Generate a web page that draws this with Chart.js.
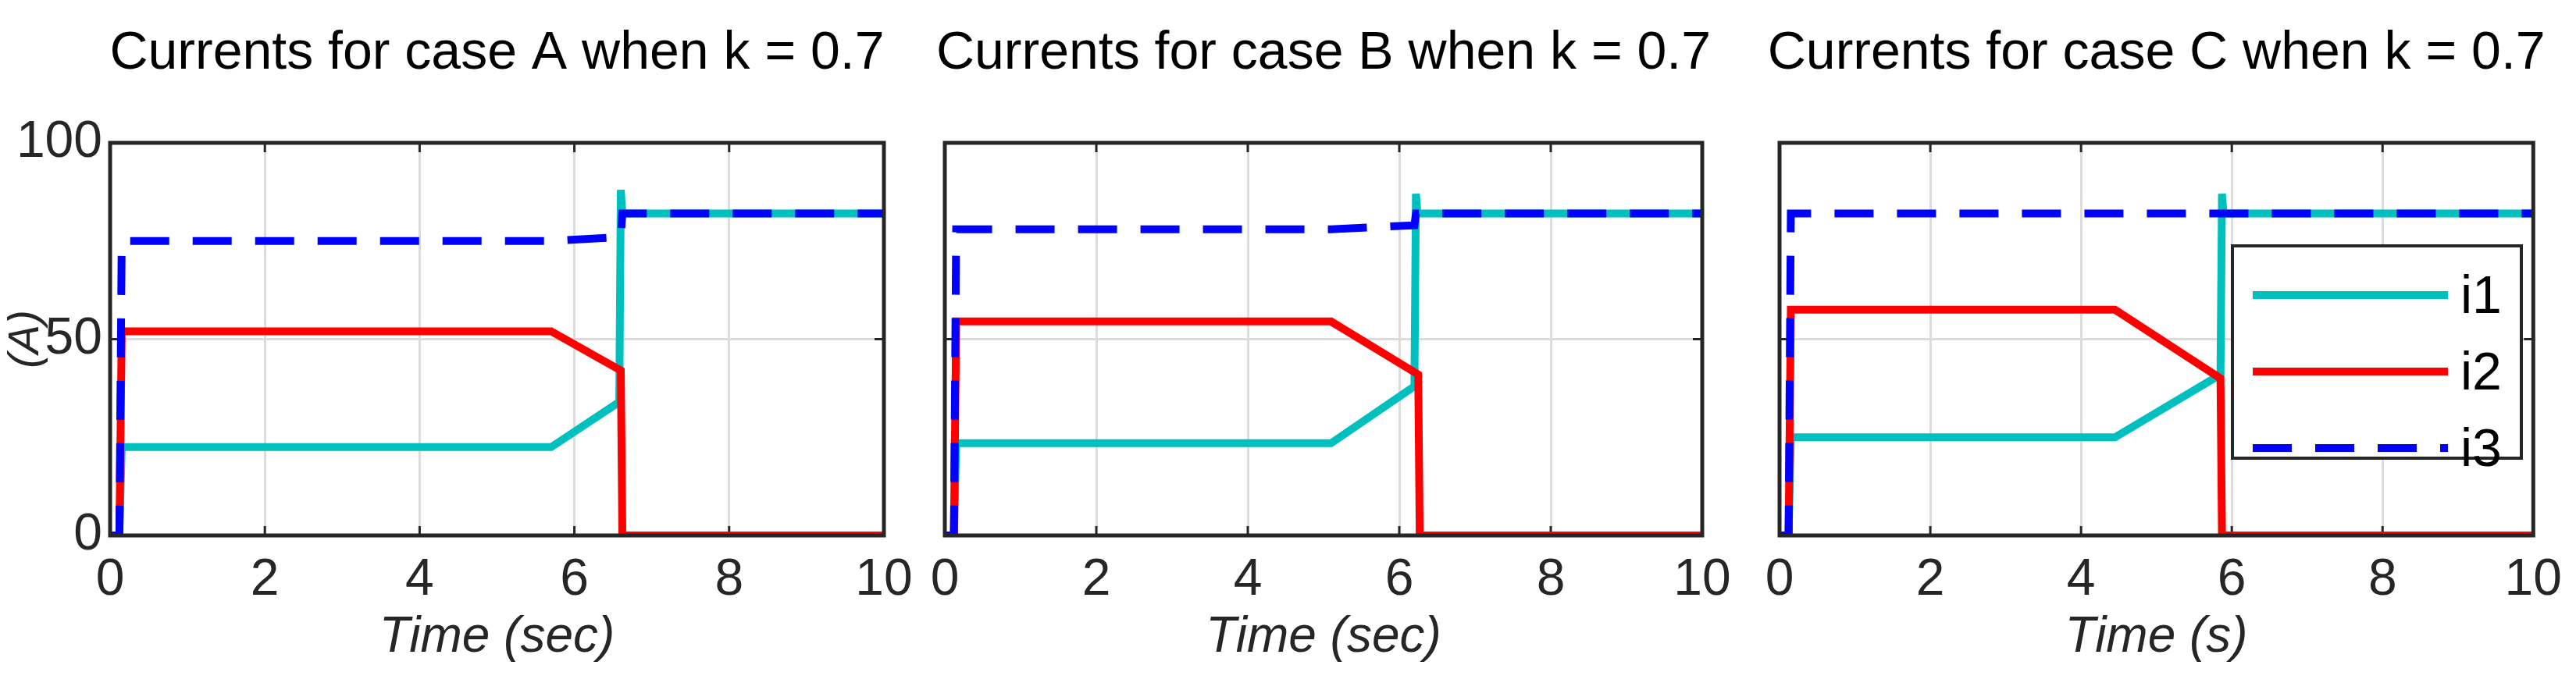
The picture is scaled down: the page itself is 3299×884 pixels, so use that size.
<!DOCTYPE html>
<html><head><meta charset="utf-8">
<script src="https://cdn.jsdelivr.net/npm/chart.js@4"></script>
<style>html,body{margin:0;padding:0;background:#fff;width:3299px;height:884px;overflow:hidden}
canvas{position:absolute;left:0;top:0}</style></head>
<body>
<canvas id="c0" width="3299" height="884"></canvas>
<canvas id="c1" width="3299" height="884"></canvas>
<canvas id="c2" width="3299" height="884"></canvas>
<script>
const titles = ["Currents for case A when k = 0.7","Currents for case B when k = 0.7","Currents for case C when k = 0.7"];
const xTitles = ["Time (sec)","Time (sec)","Time (s)"];
const xTicks = [0,2,4,6,8,10];
const yTicks = [0,50,100];
const seriesNames = ["i1","i2","i3"];
// case A
const tA1 = [0,0.12,0.15,5.7,6.58,6.6,6.62,10];
const iA1 = [0,0,22.5,22.5,34,88,82,82];
const tA2 = [0,0.12,0.15,5.7,6.6,6.62,10];
const iA2 = [0,0,52,52,42,0,0];
const tA3 = [0,0.12,0.15,5.7,6.6,6.62,10];
const iA3 = [0,0,75,75,76,82,82];
// case B
const tB1 = [0,0.12,0.15,5.1,6.2,6.22,6.24,10];
const iB1 = [0,0,23.5,23.5,38,87,82,82];
const tB2 = [0,0.12,0.15,5.1,6.25,6.27,10];
const iB2 = [0,0,54.5,54.5,41,0,0];
const tB3 = [0,0.12,0.15,5.1,6.2,6.22,10];
const iB3 = [0,0,78,78,79,82,82];
// case C
const tC1 = [0,0.12,0.15,4.45,5.85,5.87,5.89,10];
const iC1 = [0,0,25,25,41,87,82,82];
const tC2 = [0,0.12,0.15,4.45,5.85,5.87,10];
const iC2 = [0,0,57.5,57.5,40,0,0];
const tC3 = [0,0.12,0.15,10];
const iC3 = [0,0,82,82];

const cases = [[[tA1,iA1],[tA2,iA2],[tA3,iA3]],[[tB1,iB1],[tB2,iB2],[tB3,iB3]],[[tC1,iC1],[tC2,iC2],[tC3,iC3]]];
const plots = [[141,1132],[1210,2180],[2279,3251]];
const TOP=183, BOT=686, YW=141, XH=170;
const colors=["#00BFBF","#FF0000","#0000FF"];
const FONT='"Liberation Sans", Arial, sans-serif';
const TXT='#262626';

function pts(t,v){return t.map((x,i)=>({x:x,y:v[i]}));}

const frame = {
  id:'frame',
  beforeDatasetsDraw(ch){
    const a=ch.chartArea,c=ch.ctx;c.save();
    c.strokeStyle='#262626';c.lineWidth=3;
    const xs=ch.scales.x, ys=ch.scales.y;
    xTicks.forEach(v=>{const x=xs.getPixelForValue(v);c.beginPath();c.moveTo(x,a.top);c.lineTo(x,a.top+12);c.moveTo(x,a.bottom);c.lineTo(x,a.bottom-12);c.stroke();});
    yTicks.forEach(v=>{const y=ys.getPixelForValue(v);c.beginPath();c.moveTo(a.left,y);c.lineTo(a.left+12,y);c.moveTo(a.right,y);c.lineTo(a.right-12,y);c.stroke();});
    c.restore();
  },
  afterDatasetsDraw(ch,args,o){
    const a=ch.chartArea,c=ch.ctx;c.save();
    c.strokeStyle='#262626';c.lineWidth=5;c.strokeRect(a.left,a.top,a.right-a.left,a.bottom-a.top);
    c.fillStyle='#000';c.font='68px '+FONT;c.textAlign='center';c.textBaseline='alphabetic';
    c.fillText(o.title,(a.left+a.right)/2,88);
    if(o.legend){
      const L=2859,T=315,W=370,H=272;
      c.fillStyle='#fff';c.fillRect(L,T,W,H);
      c.strokeStyle='#262626';c.lineWidth=4;c.strokeRect(L,T,W,H);
      ch.data.datasets.forEach((d,i)=>{
        const y=T+63+i*98;
        c.strokeStyle=d.borderColor;c.lineWidth=10;c.setLineDash(d.borderDash||[]);
        c.beginPath();c.moveTo(L+26,y);c.lineTo(L+276,y);c.stroke();c.setLineDash([]);
        c.fillStyle='#000';c.font='68px '+FONT;c.textAlign='left';c.textBaseline='middle';
        c.fillText(d.label,L+292,y+4);
      });
    }
    c.restore();
  }
};

cases.forEach((cs,k)=>{
  const [l,r]=plots[k];
  new Chart(document.getElementById('c'+k),{
    type:'line',
    data:{datasets:cs.map((s,i)=>({label:seriesNames[i],order:2-i,data:pts(s[0],s[1]),borderColor:colors[i],borderWidth:10,pointRadius:0,fill:false,tension:0,borderDash:i===2?[50,30]:[],borderCapStyle:'butt'}))},
    options:{
      responsive:false,animation:false,
      layout:{padding:{left:l-YW,right:3299-r,top:TOP,bottom:884-BOT-XH}},
      plugins:{legend:{display:false},tooltip:{enabled:false},frame:{title:titles[k],legend:k===2}},
      scales:{
        x:{type:'linear',min:0,max:10,afterFit:s=>{s.height=XH;},
          afterBuildTicks:s=>{s.ticks=xTicks.map(v=>({value:v}));},
          grid:{color:'#dcdcdc',lineWidth:3,drawTicks:false},border:{display:false},
          ticks:{color:TXT,font:{size:66,family:FONT},padding:18,maxRotation:0},
          title:{display:true,text:xTitles[k],color:TXT,font:{size:64,family:FONT,style:'italic'},padding:{top:0,bottom:0}}},
        y:{min:0,max:100,afterFit:s=>{s.width=YW;},
          afterBuildTicks:s=>{s.ticks=yTicks.map(v=>({value:v}));},
          grid:{color:'#dcdcdc',lineWidth:3,drawTicks:false},border:{display:false},
          ticks:{display:k===0,color:TXT,font:{size:66,family:FONT},padding:10},
          title:{display:k===0,text:'(A)',color:TXT,font:{size:56,family:FONT,style:'italic'},padding:{top:0,bottom:0}}}
      }
    },
    plugins:[frame]
  });
});
</script></body></html>
